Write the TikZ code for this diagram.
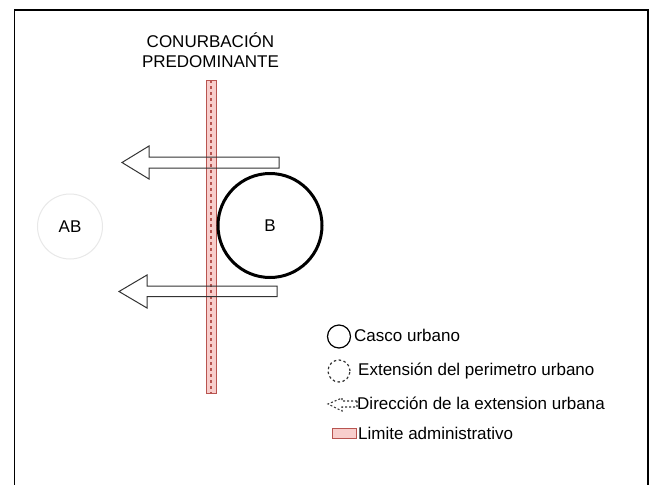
\documentclass[tikz,border=0pt]{standalone}
\usepackage{fontspec}
\setmainfont{Liberation Sans}
\definecolor{pinkfill}{HTML}{F8CECC}
\definecolor{pinkline}{HTML}{B85450}
\definecolor{arrowgray}{HTML}{333333}
\definecolor{ghost}{HTML}{E8E8E8}
\tikzset{
  lbl/.style={font=\fontsize{17}{20}\selectfont, inner sep=0pt},
  legtxt/.style={lbl, anchor=west},
  bigarrow/.style={draw=arrowgray, line width=1pt, line join=miter},
  limitbar/.style={fill=pinkfill, draw=pinkline, line width=0.9pt},
  limitdash/.style={draw=pinkline, line width=1.1pt, dash pattern=on 3pt off 3pt}
}
\begin{document}
\begin{tikzpicture}[x=1pt,y=-1pt]
\useasboundingbox (0,0) rectangle (654,485);
\fill[white] (0,0) rectangle (654,485);
% frame (bottom edge lies outside the picture)
\draw[line width=1.8pt] (14.5,485) -- (14.5,10) -- (648,10) -- (648,485);

% title
\node[lbl, align=center] (title) at (210.5,50.5) {CONURBACIÓN\\[0pt]PREDOMINANTE};

% administrative limit bar
\path[limitbar] (206,80) rectangle (216,393);
\coordinate (bartop) at (211,80);
\coordinate (barbot) at (211,393);
\draw[limitdash] (bartop) -- (barbot);

% arrows (outline only)
\draw[bigarrow] (279,157) -- (149,157) -- (149,146) -- (122,162.5) -- (149,179) -- (149,168) -- (279,168) -- cycle;
\draw[bigarrow] (277,286) -- (147,286) -- (147,275) -- (119,291.5) -- (147,308) -- (147,296.5) -- (277,296.5) -- cycle;

% towns
\node[circle, draw, line width=3pt, minimum size=104pt, lbl] (B) at (270,225.5) {B};
\node[circle, draw=ghost, line width=1pt, minimum size=65pt, lbl] (AB) at (70,226.5) {AB};

% legend
\node[circle, draw, line width=1.2pt, minimum size=23pt, inner sep=0pt] (lcasco) at (339,336.5) {};
\node[legtxt] (tcasco) at (354,335.5) {Casco urbano};

\node[circle, draw=arrowgray, line width=1.2pt, dash pattern=on 2.5pt off 2.5pt, minimum size=22pt, inner sep=0pt] (lext) at (339,371) {};
\node[legtxt] (text) at (358,370.5) {Extensión del perimetro urbano};

\draw[draw=arrowgray, line width=1.1pt, dash pattern=on 2pt off 2pt] (357,401) -- (342,401) -- (342,398) -- (328,404) -- (342,411) -- (342,407) -- (357,407) -- cycle;
\node[legtxt] (tdir) at (357,403.5) {Dirección de la extension urbana};

\path[limitbar] (332,428) rectangle (356,438);
\node[legtxt] (tlim) at (358,433.5) {Limite administrativo};
\end{tikzpicture}
\end{document}
